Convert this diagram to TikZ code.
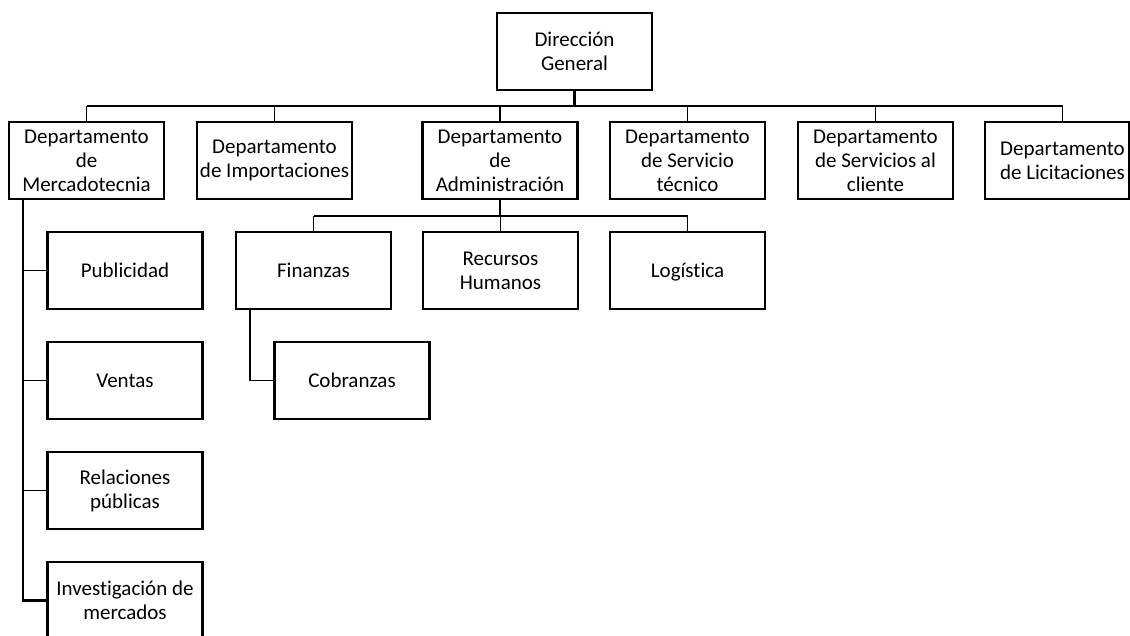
\documentclass[tikz,border=0pt]{standalone}
\usepackage{fontspec}
\setmainfont{Carlito}[Ligatures=CommonOff]
\begin{document}
\begin{tikzpicture}[x=1pt,y=-1pt,
  box/.style={draw,line width=2.2pt,minimum width=155pt,minimum height=77pt,
    inner sep=0pt,align=center,font=\fontsize{21}{24}\selectfont},
  oneline/.style={text height=15pt,text depth=1pt},
  txt/.style={inner sep=0pt,align=center,font=\fontsize{21}{24}\selectfont},
  link/.style={line width=1.9pt},
  trunk/.style={line width=2.8pt}]
\useasboundingbox (0,0) rectangle (1130,635);

% top
\node[box] (dg) at (574.5,51.5) {Dirección\\General};

% departments
\node[box] (mer) at (86.5,160.5) {Departamento\\de\\Mercadotecnia};
\node[box] (imp) at (274.5,160.5) {Departamento\\de Importaciones};
\node[box] (adm) at (500,160.5) {Departamento\\de\\Administración};
\node[box] (ser) at (687.5,160.5) {Departamento\\de Servicio\\técnico};
\node[box] (cli) at (875.5,160.5) {Departamento\\de Servicios al\\cliente};
\node[box,minimum width=144pt] (lic) at (1057,160.5) {};
\node[txt] (lict) at (1062.5,160.5) {Departamento\\de Licitaciones};

% administration units
\node[box,oneline] (fin) at (313.5,270.5) {Finanzas};
\node[box] (rh) at (500.5,270.5) {Recursos\\Humanos};
\node[box,oneline] (log) at (687.5,270.5) {Logística};
\node[box,oneline] (cob) at (352,380.5) {Cobranzas};

% marketing units
\node[box,oneline] (pub) at (125,270.5) {Publicidad};
\node[box,oneline] (ven) at (125,380.5) {Ventas};
\node[box] (rel) at (125,490.5) {Relaciones\\públicas};
\node[box] (inv) at (125,600.5) {Investigación de\\mercados};

% main bar
\coordinate (bar) at (0,106);
\draw[trunk] (dg.south) -- (dg.south |- bar);
\draw[link] (mer.north |- bar) -- (lict.north |- bar);
\foreach \n in {mer,imp,adm,ser,cli}
  \draw[link] (\n.north |- bar) -- (\n.north);
\draw[link] (lict.north |- bar) -- (lict |- lic.north);

% administration bar
\coordinate (sub) at (0,216);
\draw[trunk] (adm.south) -- (adm.south |- sub);
\draw[link] (fin.north |- sub) -- (log.north |- sub);
\foreach \n in {fin,rh,log}
  \draw[link] (\n.north |- sub) -- (\n.north);

% finance branch
\path (fin.south west) ++(15,0) coordinate (fd);
\draw[link] (fd) |- (cob.west);

% marketing branch
\path (mer.south west) ++(15,0) coordinate (md);
\draw[trunk,line join=miter] (md) |- (inv.west);
\foreach \n in {pub,ven,rel}
  \draw[link] (md |- \n.west) -- (\n.west);
\end{tikzpicture}
\end{document}
